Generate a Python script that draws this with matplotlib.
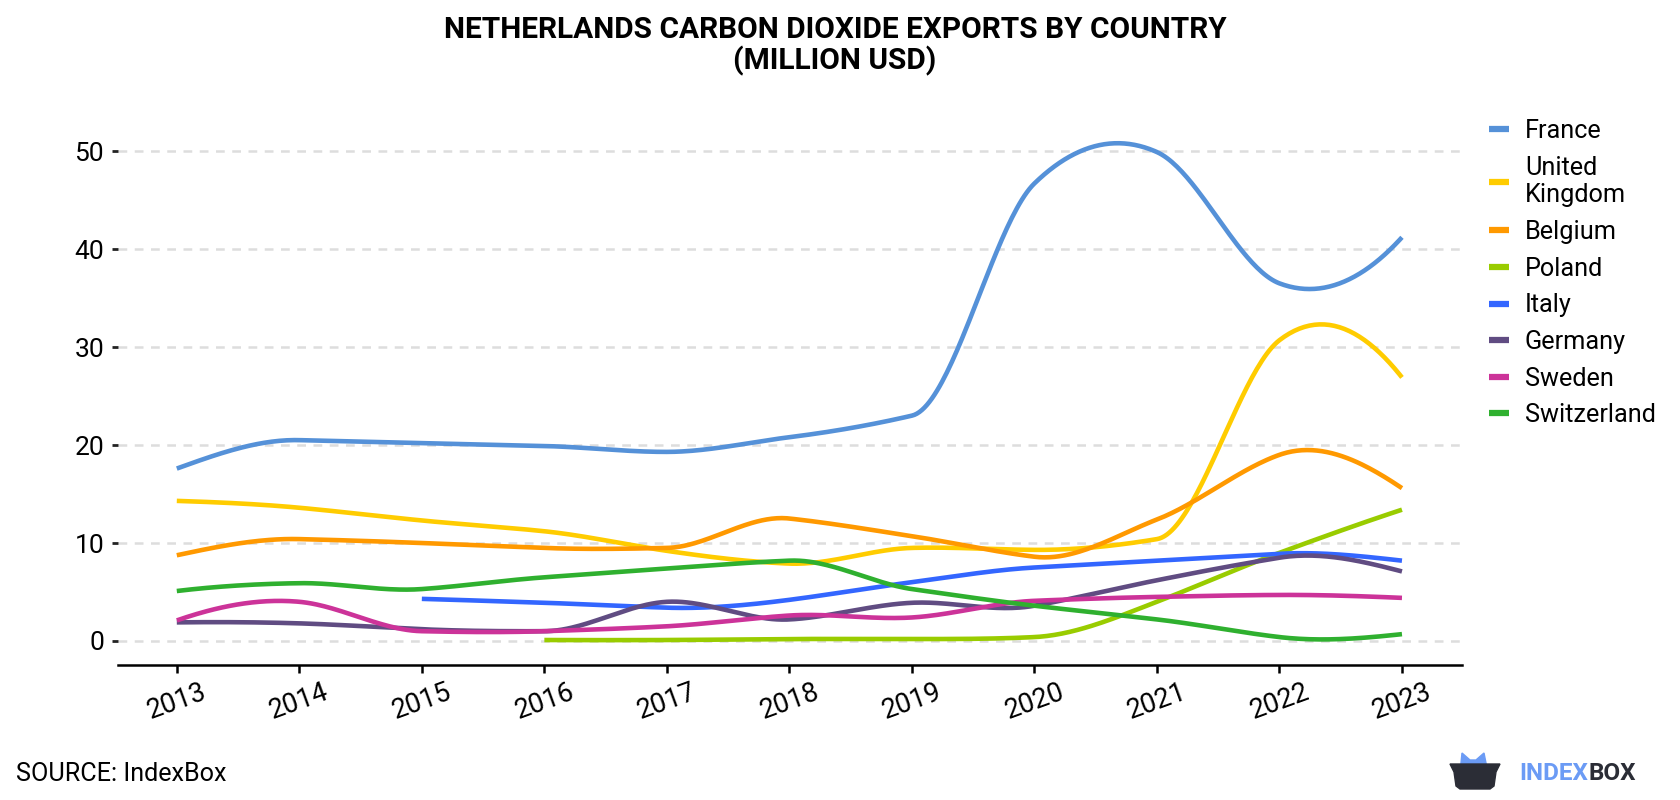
import numpy as np
import matplotlib.pyplot as plt
from matplotlib.patches import Polygon

plt.rcParams['font.family'] = ['Roboto', 'DejaVu Sans']

years = list(range(2013, 2024))
series = ['France', 'United\nKingdom', 'Belgium', 'Poland', 'Italy', 'Germany', 'Sweden', 'Switzerland']
france = [17.6, 20.5, 20.2, 19.9, 19.3, 20.8, 23.0, 46.7, 49.9, 36.5, 41.2]
uk = [14.3, 13.6, 12.3, 11.2, 9.2, 7.9, 9.5, 9.3, 10.4, 30.7, 26.9]
belgium = [8.75, 10.4, 10.0, 9.5, 9.5, 12.5, 10.7, 8.6, 12.4, 19.0, 15.6]
poland = [None, None, None, 0.1, 0.1, 0.2, 0.2, 0.4, 4.0, 9.0, 13.4]
italy = [None, None, 4.3, 3.9, 3.4, 4.2, 6.0, 7.5, 8.2, 8.9, 8.2]
germany = [1.9, 1.8, 1.2, 1.0, 4.0, 2.2, 3.9, 3.6, 6.2, 8.5, 7.1]
sweden = [2.1, 4.0, 1.0, 1.0, 1.5, 2.6, 2.4, 4.1, 4.5, 4.7, 4.4]
switzerland = [5.1, 5.9, 5.3, 6.5, 7.4, 8.2, 5.3, 3.6, 2.2, 0.4, 0.7]
values = [france, uk, belgium, poland, italy, germany, sweden, switzerland]
colors = ['#5591d8', '#ffcc00', '#ff9900', '#99cc00', '#3366ff', '#604c82', '#cc3399', '#2fb02f']


def akima(x, y, n=50):
    # Akima (1970) spline: straight-ish next to flat runs, overshoots at real peaks
    x = np.asarray(x, float); y = np.asarray(y, float)
    m = np.diff(y) / np.diff(x)
    mm = np.concatenate([[0, 0], m, [0, 0]])
    mm[1] = 2 * mm[2] - mm[3]; mm[0] = 2 * mm[1] - mm[2]
    mm[-2] = 2 * mm[-3] - mm[-4]; mm[-1] = 2 * mm[-2] - mm[-3]
    t = np.empty(len(x))
    for i in range(len(x)):
        m1, m2, m3, m4 = mm[i], mm[i + 1], mm[i + 2], mm[i + 3]
        w1, w2 = abs(m4 - m3), abs(m2 - m1)
        t[i] = (m2 + m3) / 2 if w1 + w2 < 1e-12 else (w1 * m2 + w2 * m3) / (w1 + w2)
    u = np.linspace(0, 1, n)
    xs, ys = [x[:1]], [y[:1]]
    for i in range(len(x) - 1):
        h = x[i + 1] - x[i]
        h00 = 2 * u**3 - 3 * u**2 + 1; h10 = u**3 - 2 * u**2 + u
        h01 = -2 * u**3 + 3 * u**2; h11 = u**3 - u**2
        seg = h00 * y[i] + h10 * h * t[i] + h01 * y[i + 1] + h11 * h * t[i + 1]
        xs.append(x[i] + u[1:] * h); ys.append(seg[1:])
    return np.concatenate(xs), np.concatenate(ys)


fig = plt.figure(figsize=(16.8, 8), dpi=100)
ax = fig.add_axes([118 / 1680, 135 / 800, 1344 / 1680, 558 / 800])

for name, vals, col in zip(series, values, colors):
    xs = [yr for yr, v in zip(years, vals) if v is not None]
    vs = [v for v in vals if v is not None]
    cx, cy = akima(xs, vs)
    ax.plot(cx, cy, color=col, lw=3.3, label=name, solid_capstyle='butt')

ax.set_xlim(2012.52, 2023.49)
ax.set_ylim(-2.45, 54.5)
ax.set_yticks([0, 10, 20, 30, 40, 50])
ax.set_xticks(years)
ax.yaxis.grid(True, ls=(0, (3.5, 3)), color='#dddddd', lw=1.8)
ax.set_axisbelow(True)
for s in ['top', 'right', 'left']:
    ax.spines[s].set_visible(False)
ax.spines['bottom'].set_linewidth(1.8)
ax.tick_params(axis='y', length=4.5, width=2, labelsize=19, pad=5.5, color='#222222')
ax.tick_params(axis='x', length=6, width=1.8, labelsize=19.5, pad=4)
for lab in ax.get_xticklabels():
    lab.set_rotation(20)

leg = fig.legend(loc='upper left', bbox_to_anchor=(1489 / 1680, 1 - 119 / 800), frameon=False, fontsize=18.2,
                 handlelength=0.8, handletextpad=0.62, labelspacing=0.5, borderaxespad=0, borderpad=0)
for h in leg.get_lines():
    h.set_linewidth(4.5)

fig.text(0.497, 1 - 46 / 800, 'NETHERLANDS CARBON DIOXIDE EXPORTS BY COUNTRY\n(MILLION USD)',
         ha='center', va='center', fontsize=21.5, fontweight='bold', linespacing=1.12)
fig.text(16 / 1680, 1 - 774 / 800, 'SOURCE: IndexBox', fontsize=18.1, va='center')

# logo
fy = lambda y: 1 - y / 800
fx = lambda x: x / 1680
t1 = fig.text(fx(1519), fy(774), 'INDEX', color='#6b9bf5', fontsize=17.5, fontweight='bold', va='center')
fig.canvas.draw()
bb = t1.get_window_extent()
fig.text(bb.x1 / 1680 + 1 / 1680, fy(774), 'BOX', color='#2b2d36', fontsize=17.5, fontweight='bold', va='center')
ears = [(1460, 773), (1462, 753), (1470, 760), (1476, 760), (1484, 753), (1488, 773)]
fig.patches.append(Polygon([(fx(a), fy(b)) for a, b in ears], closed=True, color='#6b9bf5',
                           transform=fig.transFigure, figure=fig))
box = [(1450, 764), (1500, 764), (1496, 772), (1494, 786), (1490, 789), (1460, 789), (1456, 786), (1454, 772)]
fig.patches.append(Polygon([(fx(a), fy(b)) for a, b in box], closed=True, color='#2b2d36',
                           transform=fig.transFigure, figure=fig))

fig.savefig('out.png', dpi=100)
